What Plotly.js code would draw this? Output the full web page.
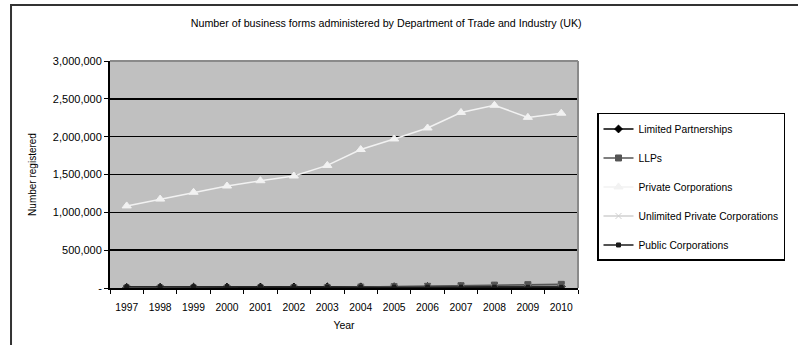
<!DOCTYPE html>
<html><head><meta charset="utf-8">
<script src="https://cdn.plot.ly/plotly-3.0.1.min.js"></script>
<style>html,body{margin:0;padding:0;background:#fff;}#chart{width:798px;height:345px;}</style>
</head><body><div id="chart"></div>
<script>
const years = ['1997','1998','1999','2000','2001','2002','2003','2004','2005','2006','2007','2008','2009','2010'];
const limitedPartnerships = [9000,10000,11000,12000,13000,14000,15000,16000,17000,18000,19000,20000,21000,21000];
const llps = [0,0,0,0,1000,3000,7000,12000,17000,22000,30000,38000,44000,48000];
const privateCorporations = [1085000,1175000,1265000,1348000,1418000,1480000,1620000,1830000,1970000,2115000,2320000,2415000,2255000,2310000];
const unlimitedPrivate = [4500,4600,4700,4800,4900,5000,5100,5200,5300,5400,5500,5600,5600,5700];
const publicCorporations = [12000,12500,12600,12700,12800,12300,11800,11500,11200,10500,10000,9500,9000,8500];
const seriesNames = ['Limited Partnerships','LLPs','Private Corporations','Unlimited Private Corporations','Public Corporations'];
const yTickVals = [0,500000,1000000,1500000,2000000,2500000,3000000];
const yTickText = ['-','500,000','1,000,000','1,500,000','2,000,000','2,500,000','3,000,000'];

const styles = [
  {color:'#000000', symbol:'diamond', size:6},
  {color:'#555555', symbol:'square', size:6},
  {color:'#f2f2f2', symbol:'triangle-up', size:8},
  {color:'#d0d0d0', symbol:'x-thin-open', size:6},
  {color:'#1a1a1a', symbol:'square', size:4}
];
const allData = [limitedPartnerships, llps, privateCorporations, unlimitedPrivate, publicCorporations];
const traces = allData.map((vals,i)=>({
  type:'scatter', mode:'lines+markers', x:years, y:vals, name:seriesNames[i],
  legendgroup:'g'+i,
  line:{color:styles[i].color, width:1.5},
  marker:{color:styles[i].color, symbol:styles[i].symbol, size:styles[i].size, line:{color:styles[i].color, width:1}}
}));
// invisible carrier trace for the tick-label axis
traces.push({type:'scatter', mode:'lines', x:years, y:privateCorporations, xaxis:'x2', yaxis:'y', opacity:0, line:{width:0}, showlegend:false, hoverinfo:'skip'});

const layout = {
  width:798, height:345,
  margin:{l:110, r:220, t:61, b:57},
  paper_bgcolor:'#ffffff', plot_bgcolor:'#c0c0c0',
  font:{family:'Liberation Sans, Arial, sans-serif', size:10.3, color:'#000'},
  title:{text:'Number of business forms administered by Department of Trade and Industry (UK)', x:0.484, xanchor:'center', y:0.934, yanchor:'middle', font:{size:10.7}},
  showlegend:true,
  legend:{x:1.0406, xanchor:'left', y:0.771, yanchor:'top', bgcolor:'#ffffff', bordercolor:'#000', borderwidth:1.5, tracegroupgap:10, font:{size:10.3}},
  xaxis:{type:'category', range:[-0.5,13.5], tickson:'boundaries', tickangle:0, ticks:'outside', ticklen:4, tickcolor:'#000', showticklabels:false, showline:true, linecolor:'#000', linewidth:2, showgrid:false, title:{text:'Year', standoff:33, font:{size:10.5}}, fixedrange:true},
  xaxis2:{type:'category', overlaying:'x', anchor:'y', side:'bottom', range:[-0.5,13.5], tickangle:0, ticks:'outside', ticklen:10, tickcolor:'rgba(0,0,0,0)', showline:false, showgrid:false, zeroline:false, tickfont:{size:10.3}, fixedrange:true},
  yaxis:{range:[0,3000000], tickvals:yTickVals, ticktext:yTickText, ticks:'outside', ticklen:4, tickcolor:'#000', showline:true, linecolor:'#000', linewidth:2, showgrid:true, gridcolor:'#000', gridwidth:1.5, zeroline:false, tickfont:{size:11}, title:{text:'Number registered', standoff:14, font:{size:10}}, fixedrange:true},
  shapes:[
    {type:'line', xref:'paper', yref:'paper', x0:0, x1:1, y0:1, y1:1, line:{color:'#8a8a8a', width:2}, layer:'above'},
    {type:'line', xref:'paper', yref:'paper', x0:1, x1:1, y0:0, y1:1, line:{color:'#8a8a8a', width:2}, layer:'above'},
    {type:'rect', xref:'paper', yref:'paper', x0:-0.2115, x1:1.5, y0:-0.3, y1:1.2467, line:{color:'#333', width:2}, layer:'below'}
  ]
};
Plotly.newPlot('chart', traces, layout, {displayModeBar:false, staticPlot:true});
</script></body></html>
